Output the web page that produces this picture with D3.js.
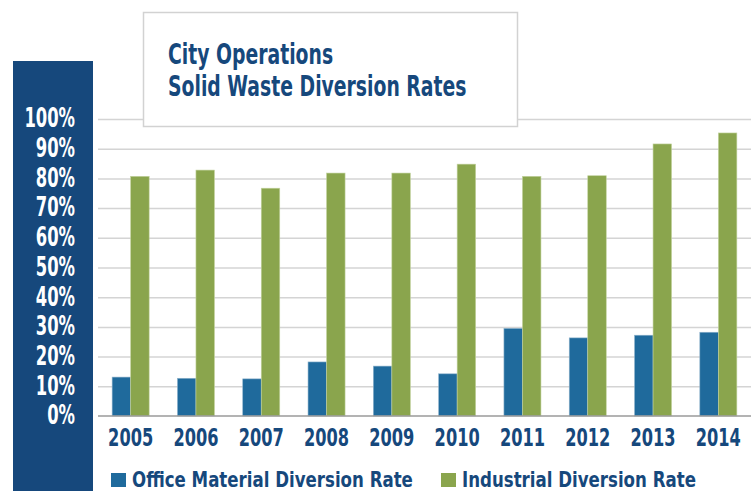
<!DOCTYPE html>
<html>
<head>
<meta charset="utf-8">
<script src="https://cdnjs.cloudflare.com/ajax/libs/d3/7.8.5/d3.min.js"></script>
<style>
  body { margin: 0; background: #fff; }
  svg text { font-family: "DejaVu Sans Condensed", "DejaVu Sans", sans-serif; font-weight: bold; }
</style>
</head>
<body>
<div id="chart"></div>
<script>
// Chart data
var years = ["2005", "2006", "2007", "2008", "2009", "2010", "2011", "2012", "2013", "2014"];
var officeRate = [13.1, 12.7, 12.5, 18.2, 16.8, 14.2, 29.5, 26.3, 27.2, 28.2];
var industrialRate = [80.7, 82.8, 76.7, 81.8, 81.8, 84.8, 80.7, 80.9, 91.6, 95.3];
var yTicks = [0, 10, 20, 30, 40, 50, 60, 70, 80, 90, 100];
var seriesNames = ["Office Material Diversion Rate", "Industrial Diversion Rate"];
var titleLines = ["City Operations", "Solid Waste Diversion Rates"];

var svgWidth = 751;
var svgHeight = 491;

var colors = ["#1f6a9c", "#8aa54d"];
var navy = "#16487c";

// plot area
var plot = { left: 98, right: 751, top: 119, bottom: 416 };

var svg = d3.select("#chart")
  .append("svg")
  .attr("width", svgWidth)
  .attr("height", svgHeight);

// squeeze text horizontally to mimic the condensed face
function condense(sel, k) {
  sel.each(function() {
    var w = this.getComputedTextLength();
    d3.select(this)
      .attr("textLength", w * k)
      .attr("lengthAdjust", "spacingAndGlyphs");
  });
}

// dark side panel behind the y labels
svg.append("rect")
  .attr("x", 13)
  .attr("y", 61)
  .attr("width", 80)
  .attr("height", svgHeight - 61)
  .attr("fill", navy);

// scales
var x0 = d3.scaleBand()
  .domain(years)
  .range([plot.left, plot.right])
  .paddingInner(0.433)
  .paddingOuter(0.2165);

var x1 = d3.scaleBand()
  .domain([0, 1])
  .range([0, x0.bandwidth()]);

var y = d3.scaleLinear()
  .domain([0, 100])
  .range([plot.bottom, plot.top]);

// gridlines
var grid = svg.append("g")
  .attr("transform", `translate(${plot.left},0)`)
  .call(d3.axisLeft(y).tickValues(yTicks.slice(1)).tickSize(-(plot.right - plot.left)).tickFormat(""));
grid.select(".domain").remove();
grid.selectAll("line").attr("stroke", "#d4d4d4").attr("stroke-width", 1.5);

// title box (sits over the top gridline)
svg.append("rect")
  .attr("x", 143.5)
  .attr("y", 12.5)
  .attr("width", 374)
  .attr("height", 114)
  .attr("fill", "#fff")
  .attr("stroke", "#d2d2d2")
  .attr("stroke-width", 1.5);

var title = svg.append("g");
title.selectAll("text")
  .data(titleLines)
  .enter()
  .append("text")
  .attr("x", 168)
  .attr("y", (d, i) => 64 + i * 31.5)
  .attr("fill", navy)
  .attr("font-size", 27.5)
  .text(d => d);
condense(title.selectAll("text"), 0.76);

// bars
var groups = svg.append("g")
  .selectAll("g")
  .data(years)
  .enter()
  .append("g")
  .attr("transform", d => `translate(${x0(d)},0)`);

groups.selectAll("rect")
  .data((d, i) => [officeRate[i], industrialRate[i]])
  .enter()
  .append("rect")
  .attr("x", (d, j) => x1(j))
  .attr("y", d => y(d))
  .attr("width", x1.bandwidth())
  .attr("height", d => y(0) - y(d))
  .attr("fill", (d, j) => colors[j])
  .attr("stroke", (d, j) => j === 0 ? "#8fb3cc" : "#c3d3a0")
  .attr("stroke-width", 0.6);

// baseline
svg.append("line")
  .attr("x1", plot.left)
  .attr("x2", plot.right)
  .attr("y1", plot.bottom)
  .attr("y2", plot.bottom)
  .attr("stroke", "#9a9a9a")
  .attr("stroke-width", 1.5);

// y axis labels
var yAxis = svg.append("g")
  .attr("transform", `translate(${plot.left},0)`)
  .call(d3.axisLeft(y).tickValues(yTicks).tickSize(0).tickPadding(23).tickFormat(d => d + "%"));
yAxis.select(".domain").remove();
yAxis.selectAll("text")
  .attr("fill", "#fff")
  .attr("font-size", 26)
  .attr("dy", "0.3em");
condense(yAxis.selectAll("text"), 0.7);

// x axis labels
var xAxis = svg.append("g")
  .attr("transform", `translate(0,${plot.bottom})`)
  .call(d3.axisBottom(x0).tickSize(0).tickPadding(12));
xAxis.select(".domain").remove();
xAxis.selectAll("text")
  .attr("fill", navy)
  .attr("font-size", 25);
condense(xAxis.selectAll("text"), 0.72);

// legend
var legendX = [111, 441];
var legend = svg.append("g")
  .selectAll("g")
  .data(seriesNames)
  .enter()
  .append("g")
  .attr("transform", (d, i) => `translate(${legendX[i]},0)`);

legend.append("rect")
  .attr("x", 0)
  .attr("y", 473)
  .attr("width", 15)
  .attr("height", 14)
  .attr("fill", (d, i) => colors[i]);

legend.append("text")
  .attr("x", 21)
  .attr("y", 487)
  .attr("fill", navy)
  .attr("font-size", 22)
  .text(d => d);
condense(legend.selectAll("text"), 0.84);
</script>
</body>
</html>
